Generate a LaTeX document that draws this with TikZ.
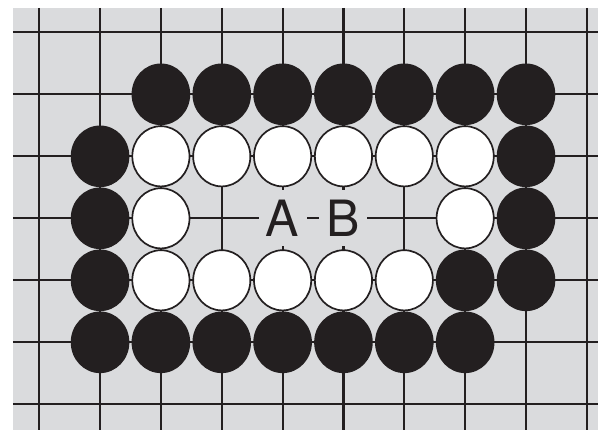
\documentclass[tikz,border=0pt]{standalone}
\usepackage{fontspec}
\setmainfont{TeX Gyre Heros}
\usepackage{xcolor}
\definecolor{boardgray}{RGB}{218,219,221}
\definecolor{inkblack}{RGB}{35,31,32}
\tikzset{
  every picture/.style={line join=round, line cap=butt},
  grid line/.style={draw=inkblack, line width=2.2pt},
  black stone/.style={fill=inkblack},
  white stone/.style={fill=white, draw=inkblack, line width=1.7pt},
  point label/.style={fill=boardgray, inner sep=0pt, minimum width=48pt, minimum height=56pt,
    font=\fontsize{50}{50}\selectfont, text=inkblack},
}

\begin{document}
\begin{tikzpicture}[x=60.85pt,y=-62pt]
\useasboundingbox(-0.644,-0.521)rectangle(9.183,6.415);
\fill[boardgray](-0.4306,-0.392)rectangle(9.183,6.415);
\foreach \c in {0,...,9} \draw[grid line](\c,-0.392)--(\c,6.415);
\foreach \r in {0,...,6} \draw[grid line](-0.4306,\r)--(9.183,\r);
\node[point label](A) at (4,3){A};
\node[point label](B) at (5,3){B};
\foreach \x/\y in {2/1,3/1,4/1,5/1,6/1,7/1,8/1,
  1/2,8/2,1/3,8/3,1/4,7/4,8/4,
  1/5,2/5,3/5,4/5,5/5,6/5,7/5}
  \fill[black stone](\x,\y)ellipse[x radius=29.3pt,y radius=30.8pt];
\foreach \x/\y in {2/2,3/2,4/2,5/2,6/2,7/2,
  2/3,7/3,
  2/4,3/4,4/4,5/4,6/4}
  \filldraw[white stone](\x,\y)ellipse[x radius=28.6pt,y radius=30.1pt];
\end{tikzpicture}
\end{document}
